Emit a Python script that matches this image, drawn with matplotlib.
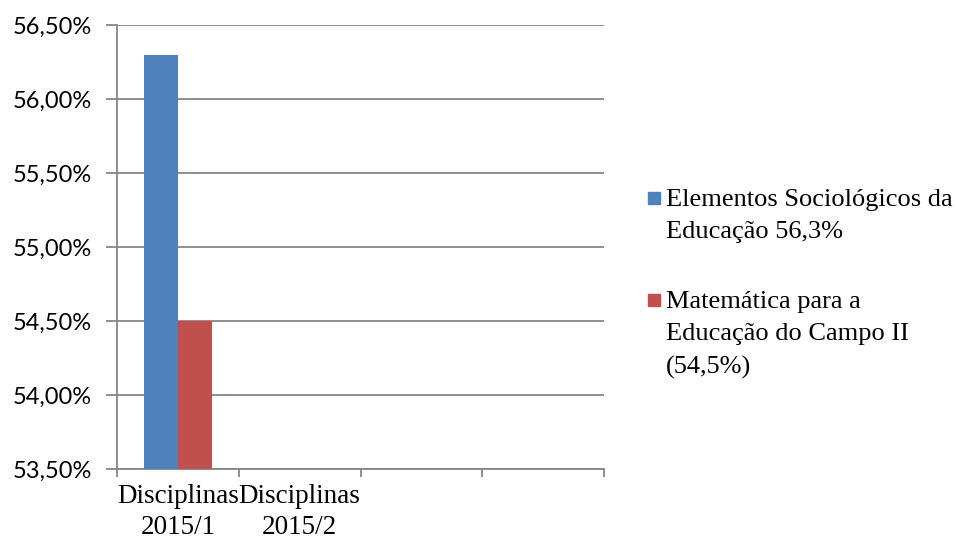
import numpy as np
from matplotlib import pyplot as plt
from matplotlib.patches import Rectangle

categories = ["Disciplinas\n2015/1", "Disciplinas\n2015/2", "", ""]
series_names = [
    "Elementos Sociológicos da\nEducação 56,3%",
    "Matemática para a\nEducação do Campo II\n(54,5%)",
]
elementos = [56.3, np.nan, np.nan, np.nan]
matematica = [54.5, np.nan, np.nan, np.nan]
y_ticks = [53.5, 54.0, 54.5, 55.0, 55.5, 56.0, 56.5]
colors = ["#4F81BD", "#C0504D"]
grid_color = "#868686"

fig = plt.figure(figsize=(9.57, 5.42), dpi=100)
ax = fig.add_axes([0.1223, 0.1347, 0.5088, 0.8192])

x = np.arange(len(categories))
width = 0.28
ax.bar(x - width / 2, elementos, width, color=colors[0], zorder=3)
ax.bar(x + width / 2, matematica, width, color=colors[1], zorder=3)

ax.set_ylim(y_ticks[0], y_ticks[-1])
ax.set_xlim(-0.5, len(categories) - 0.5)
ax.set_yticks(y_ticks)
ax.set_yticklabels([f"{v:.2f}%".replace(".", ",") for v in y_ticks])
for lbl in ax.get_yticklabels():
    lbl.set_fontfamily(["Lato"])
    lbl.set_fontsize(17)
ax.yaxis.grid(True, color=grid_color, linewidth=1.3, zorder=0)

# category boundaries carry the tick marks, labels sit between them
ax.set_xticks(np.arange(len(categories) + 1) - 0.5)
ax.set_xticklabels([])
ax.set_xticks(x, minor=True)
ax.set_xticklabels(categories, minor=True)
for lbl in ax.get_xticklabels(minor=True):
    lbl.set_fontfamily(["Liberation Serif"])
    lbl.set_fontsize(19.5)
    lbl.set_linespacing(1.32)
ax.tick_params(axis="x", which="minor", length=0, pad=10.5)
ax.tick_params(axis="x", which="major", length=6, width=1.3, color=grid_color)
ax.tick_params(axis="y", length=8, width=1.3, color=grid_color, pad=10)

for side in ["top", "right"]:
    ax.spines[side].set_visible(False)
ax.spines["left"].set_color(grid_color)
ax.spines["left"].set_linewidth(1.3)
ax.spines["bottom"].set_color(grid_color)
ax.spines["bottom"].set_linewidth(1.3)

# legend drawn by hand so the swatch lines up with the first text line
legend_rows = [1 - 198 / 542, 1 - 300 / 542]
for name, color, yc in zip(series_names, colors, legend_rows):
    fig.patches.append(Rectangle((648 / 957, yc - 6 / 542), 12 / 957, 12 / 542,
                                 transform=fig.transFigure, color=color))
    fig.text(666 / 957, yc + 0.0166, name, fontfamily=["Liberation Serif"],
             fontsize=19, va="top", ha="left", linespacing=1.6)

fig.savefig("out.png", dpi=100)
